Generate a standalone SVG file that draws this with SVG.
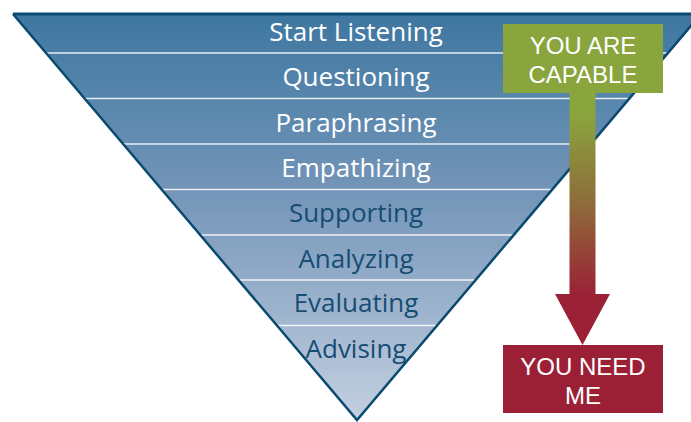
<svg xmlns="http://www.w3.org/2000/svg" width="691" height="422" viewBox="0 0 691 422">
  <defs>
    <linearGradient id="funnelFill" x1="0" y1="14" x2="0" y2="420" gradientUnits="userSpaceOnUse">
      <stop offset="0" stop-color="#3e77a1"/>
      <stop offset="0.45" stop-color="#7596b9"/>
      <stop offset="1" stop-color="#c4d0e1"/>
    </linearGradient>
    <linearGradient id="arrowFill" x1="0" y1="93" x2="0" y2="345" gradientUnits="userSpaceOnUse">
      <stop offset="0.08" stop-color="#8aa53d"/>
      <stop offset="0.45" stop-color="#8e6a3a"/>
      <stop offset="0.8" stop-color="#9b2136"/>
      <stop offset="1" stop-color="#9b2036"/>
    </linearGradient>
    <clipPath id="funnelClip">
      <polygon points="13,14 701,14 357,420"/>
    </clipPath>
  </defs>
  <style>
    .lbl { font-family: "Open Sans", "Liberation Sans", sans-serif; font-size: 26px; text-anchor: middle; }
    .light { fill: #ffffff; }
    .dark { fill: #154d73; }
    .sep { stroke: #ffffff; stroke-width: 1.6; opacity: 0.85; }
    .box { font-family: "Liberation Sans", Arial, sans-serif; font-size: 24px; fill: #ffffff; text-anchor: middle; }
  </style>

  <!-- inverted funnel -->
  <g id="funnel">
    <polygon points="13,14 701,14 357,420" fill="url(#funnelFill)"/>
    <g clip-path="url(#funnelClip)">
      <line class="sep" x1="0" y1="53" x2="691" y2="53"/>
      <line class="sep" x1="0" y1="98.5" x2="691" y2="98.5"/>
      <line class="sep" x1="0" y1="144" x2="691" y2="144"/>
      <line class="sep" x1="0" y1="189.5" x2="691" y2="189.5"/>
      <line class="sep" x1="0" y1="235" x2="691" y2="235"/>
      <line class="sep" x1="0" y1="280" x2="691" y2="280"/>
      <line class="sep" x1="0" y1="325.5" x2="691" y2="325.5"/>
    </g>
    <polyline points="701,14 357,420 13,14" fill="none" stroke="#0b4a70" stroke-width="2.5"/>
    <line x1="13" y1="14" x2="691" y2="14" stroke="#0b4a70" stroke-width="3"/>
  </g>

  <g id="band-start-listening"><text class="lbl light" x="356" y="41">Start Listening</text></g>
  <g id="band-questioning"><text class="lbl light" x="356" y="86">Questioning</text></g>
  <g id="band-paraphrasing"><text class="lbl light" x="356" y="132">Paraphrasing</text></g>
  <g id="band-empathizing"><text class="lbl light" x="356" y="177">Empathizing</text></g>
  <g id="band-supporting"><text class="lbl dark" x="356" y="222">Supporting</text></g>
  <g id="band-analyzing"><text class="lbl dark" x="356" y="268">Analyzing</text></g>
  <g id="band-evaluating"><text class="lbl dark" x="356" y="312">Evaluating</text></g>
  <g id="band-advising"><text class="lbl dark" x="356" y="358">Advising</text></g>

  <!-- connector arrow -->
  <g id="connectors">
    <path d="M569.5,93 L595.5,93 L595.5,294 L610,294 L582.5,345 L555,294 L569.5,294 Z" fill="url(#arrowFill)"/>
  </g>

  <g id="you-are-capable">
    <rect x="503" y="24" width="160" height="69" fill="#8aa53d"/>
    <text class="box" x="583" y="54">YOU ARE</text>
    <text class="box" x="583" y="83">CAPABLE</text>
  </g>

  <g id="you-need-me">
    <rect x="503" y="345" width="160" height="68" fill="#9b2036"/>
    <text class="box" x="583" y="375">YOU NEED</text>
    <text class="box" x="583" y="404">ME</text>
  </g>
</svg>
